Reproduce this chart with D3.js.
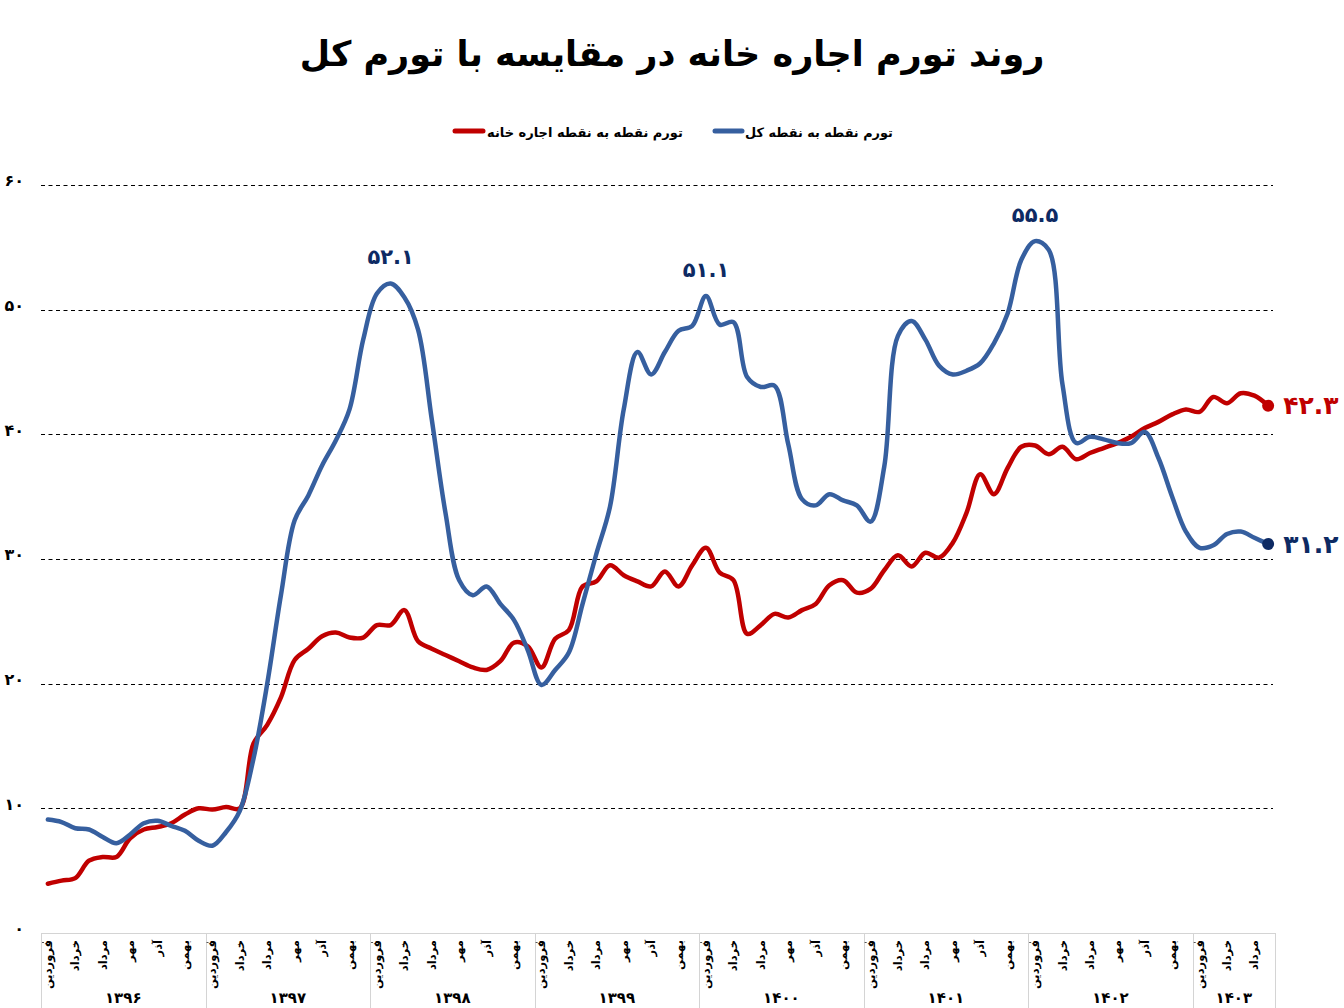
<!DOCTYPE html>
<html lang="fa">
<head>
<meta charset="utf-8">
<script src="https://cdn.jsdelivr.net/npm/d3@7"></script>
<style>
  body { margin: 0; background: #fff; }
  svg { display: block; font-family: "DejaVu Sans", sans-serif; }
</style>
</head>
<body>
<script>
"use strict";

// month names, year labels and how many months each year has in the chart
var monthNames = ["فروردین", "اردیبهشت", "خرداد", "تیر", "مرداد", "شهریور", "مهر", "آبان", "آذر", "دی", "بهمن", "اسفند"];
var yearLabels = ["۱۳۹۶", "۱۳۹۷", "۱۳۹۸", "۱۳۹۹", "۱۴۰۰", "۱۴۰۱", "۱۴۰۲", "۱۴۰۳"];
var monthsPerYear = [12, 12, 12, 12, 12, 12, 12, 6];

// point to point rent inflation (red)
var rentValues = [
  3.95, 4.2, 4.4, 5.8, 6.1, 6.1, 7.6, 8.3, 8.5, 8.8, 9.5, 10.0,
  9.9, 10.1, 10.0, 15.2, 16.7, 18.9, 21.9, 22.8, 23.8, 24.1, 23.7, 23.7,
  24.7, 24.7, 25.9, 23.4, 22.8, 22.3, 21.8, 21.3, 21.1, 21.8, 23.3, 23.0,
  21.3, 23.6, 24.3, 27.8, 28.2, 29.5, 28.7, 28.2, 27.8, 29.0, 27.8, 29.5,
  30.9, 28.9, 28.3, 24.0, 24.7, 25.6, 25.3, 25.9, 26.4, 27.9, 28.3, 27.3,
  27.6, 29.1, 30.3, 29.4, 30.5, 30.1, 31.3, 33.7, 36.8, 35.2, 37.3, 39.0,
  39.1, 38.4, 39.0, 38.0, 38.5, 38.9, 39.3, 39.8, 40.5, 41.0, 41.6, 42.0,
  41.8, 43.0, 42.5, 43.3, 43.1, 42.3
];

// point to point general inflation (blue)
var generalValues = [
  9.1, 8.9, 8.4, 8.3, 7.7, 7.2, 7.9, 8.8, 9.0, 8.6, 8.2, 7.4,
  7.0, 8.1, 9.8, 14.0, 20.0, 27.1, 33.1, 35.1, 37.5, 39.5, 42.0, 47.6,
  51.3, 52.1, 51.0, 48.4, 41.2, 33.7, 28.3, 27.1, 27.8, 26.4, 25.1, 22.7,
  19.9, 21.1, 22.5, 26.4, 30.4, 34.2, 42.0, 46.6, 44.8, 46.6, 48.3, 48.7,
  51.1, 48.8, 49.0, 44.6, 43.8, 43.9, 39.2, 34.8, 34.3, 35.2, 34.7, 34.3,
  33.0, 37.4, 47.9, 49.1, 47.6, 45.5, 44.8, 45.1, 45.7, 47.3, 49.7, 54.0,
  55.5, 54.8, 44.0, 39.3, 39.8, 39.6, 39.3, 39.3, 40.2, 38.1, 35.0, 32.2,
  30.9, 31.1, 32.0, 32.2, 31.7, 31.2
];

var yTicks = [0, 10, 20, 30, 40, 50, 60];
var peakIndex = [25, 48, 72];

var seriesNames = ["تورم نقطه به نقطه کل", "تورم نقطه به نقطه اجاره خانه"];
var titleText = "روند تورم اجاره خانه در مقایسه با تورم کل";

var blue = "#365f9f", red = "#c00000", navy = "#0d2a63";

function fa(v) {
  return String(v).replace(/\d/g, function (d) { return "۰۱۲۳۴۵۶۷۸۹"[d]; });
}

// shrink or grow a text node's font so it spans the given width
function fitWidth(sel, size, width) {
  sel.style("font-size", size + "px");
  var w = sel.node().getComputedTextLength();
  sel.style("font-size", (size * width / w) + "px");
}

// categories, one per month
var cats = [];
monthsPerYear.forEach(function (n, yi) {
  for (var m = 0; m < n; m++) cats.push({ key: yi + "-" + m, year: yi, month: m });
});

var W = 1344, H = 1008;
var plotLeft = 41, plotRight = 1275, plotTop = 185, plotBottom = 933;

var svg = d3.select("body").append("svg").attr("width", W).attr("height", H);

var x = d3.scaleBand().domain(cats.map(function (d) { return d.key; })).range([plotLeft, plotRight]);
var y = d3.scaleLinear().domain([0, 60]).range([plotBottom, plotTop]);
var cx = function (i) { return x(cats[i].key) + x.bandwidth() / 2; };

//Title
var title = svg.append("text").attr("x", 672).attr("y", 66).attr("text-anchor", "middle")
  .style("font-weight", "bold").text(titleText);
fitWidth(title, 40, 745);

//Legend
var legend = [
  { name: seriesNames[0], color: blue, x1: 715, x2: 742, tx: 745, w: 148 },
  { name: seriesNames[1], color: red, x1: 455, x2: 483, tx: 487, w: 196 }
];
legend.forEach(function (d) {
  svg.append("line").attr("x1", d.x1).attr("x2", d.x2).attr("y1", 131).attr("y2", 131)
    .attr("stroke", d.color).attr("stroke-width", 5).attr("stroke-linecap", "round");
  var t = svg.append("text").attr("x", d.tx).attr("y", 137).attr("text-anchor", "start")
    .style("font-weight", "bold").text(d.name);
  fitWidth(t, 15, d.w);
});

//Grid + y labels
var yAxis = d3.axisLeft(y).tickValues(yTicks).tickSize(0).tickFormat(fa);
var yg = svg.append("g").attr("transform", "translate(24,0)").call(yAxis);
yg.select(".domain").remove();
yg.selectAll("text").attr("x", 0).attr("dy", "0.05em").attr("text-anchor", "end")
  .style("font-family", "DejaVu Sans").style("font-weight", "bold").style("font-size", "16px").attr("fill", "#000");

svg.append("g").selectAll("line").data(yTicks.filter(function (t) { return t > 0; })).enter().append("line")
  .attr("x1", plotLeft).attr("x2", plotRight - 2)
  .attr("y1", function (d) { return Math.round(y(d)) + 0.5; })
  .attr("y2", function (d) { return Math.round(y(d)) + 0.5; })
  .attr("stroke", "#000").attr("stroke-width", 1).attr("stroke-dasharray", "4,3.5");

//X axis box
var axisColor = "#d4d4d4";
svg.append("line").attr("x1", plotLeft).attr("x2", plotRight).attr("y1", plotBottom + 0.5).attr("y2", plotBottom + 0.5)
  .attr("stroke", axisColor);
var yearStart = [];
var acc = 0;
monthsPerYear.forEach(function (n) { yearStart.push(acc); acc += n; });
var bounds = yearStart.map(function (s) { return x(cats[s].key); }).concat([plotRight]);
svg.append("g").selectAll("line").data(bounds).enter().append("line")
  .attr("x1", function (d) { return Math.round(d) + 0.5; }).attr("x2", function (d) { return Math.round(d) + 0.5; })
  .attr("y1", plotBottom).attr("y2", H).attr("stroke", axisColor);
svg.append("g").selectAll("line").data(bounds.slice(0, -1)).enter().append("line")
  .attr("x1", function (d) { return d + 1; }).attr("x2", function (d) { return d + 3; })
  .attr("y1", 942.5).attr("y2", 942.5).attr("stroke", "#555");

var xAxis = d3.axisBottom(x)
  .tickValues(cats.filter(function (d) { return d.month % 2 === 0; }).map(function (d) { return d.key; }))
  .tickSize(0)
  .tickFormat(function (k) { return monthNames[+k.split("-")[1]]; });
var xg = svg.append("g").attr("transform", "translate(0," + plotBottom + ")").call(xAxis);
xg.select(".domain").remove();
xg.selectAll("text").attr("transform", "rotate(-90)").attr("x", -7).attr("y", 0).attr("dy", "0.35em")
  .attr("text-anchor", "end").attr("fill", "#000")
  .style("font-family", "DejaVu Sans").style("font-weight", "bold").style("font-size", "11.5px");

svg.append("g").selectAll("text").data(yearLabels).enter().append("text")
  .attr("x", function (d, i) { return (bounds[i] + bounds[i + 1]) / 2; })
  .attr("y", 1003).attr("text-anchor", "middle")
  .style("font-weight", "bold").style("font-size", "15px").text(function (d) { return d; });

//Lines
var line = d3.line().x(function (d, i) { return cx(i); }).y(function (d) { return y(d); })
  .curve(d3.curveCatmullRom.alpha(0.5));

svg.append("path").datum(rentValues).attr("d", line).attr("fill", "none")
  .attr("stroke", red).attr("stroke-width", 4.5).attr("stroke-linejoin", "round").attr("stroke-linecap", "round");
svg.append("path").datum(generalValues).attr("d", line).attr("fill", "none")
  .attr("stroke", blue).attr("stroke-width", 4.5).attr("stroke-linejoin", "round").attr("stroke-linecap", "round");

//Peak labels
svg.append("g").selectAll("text").data(peakIndex).enter().append("text")
  .attr("x", function (i) { return cx(i); })
  .attr("y", function (i) { return y(generalValues[i]) - 19; })
  .attr("text-anchor", "middle").attr("fill", navy)
  .style("font-weight", "bold").style("font-size", "21px")
  .text(function (i) { return fa(generalValues[i].toFixed(1)); });

//End points
var last = cats.length - 1;
[{ v: rentValues[last], c: red }, { v: generalValues[last], c: navy }].forEach(function (d) {
  svg.append("circle").attr("cx", cx(last)).attr("cy", y(d.v)).attr("r", 6).attr("fill", d.c);
  svg.append("text").attr("x", cx(last) + 15).attr("y", y(d.v)).attr("dy", "0.35em")
    .attr("fill", d.c).style("font-weight", "bold").style("font-size", "25px")
    .text(fa(d.v.toFixed(1)));
});
</script>
</body>
</html>
